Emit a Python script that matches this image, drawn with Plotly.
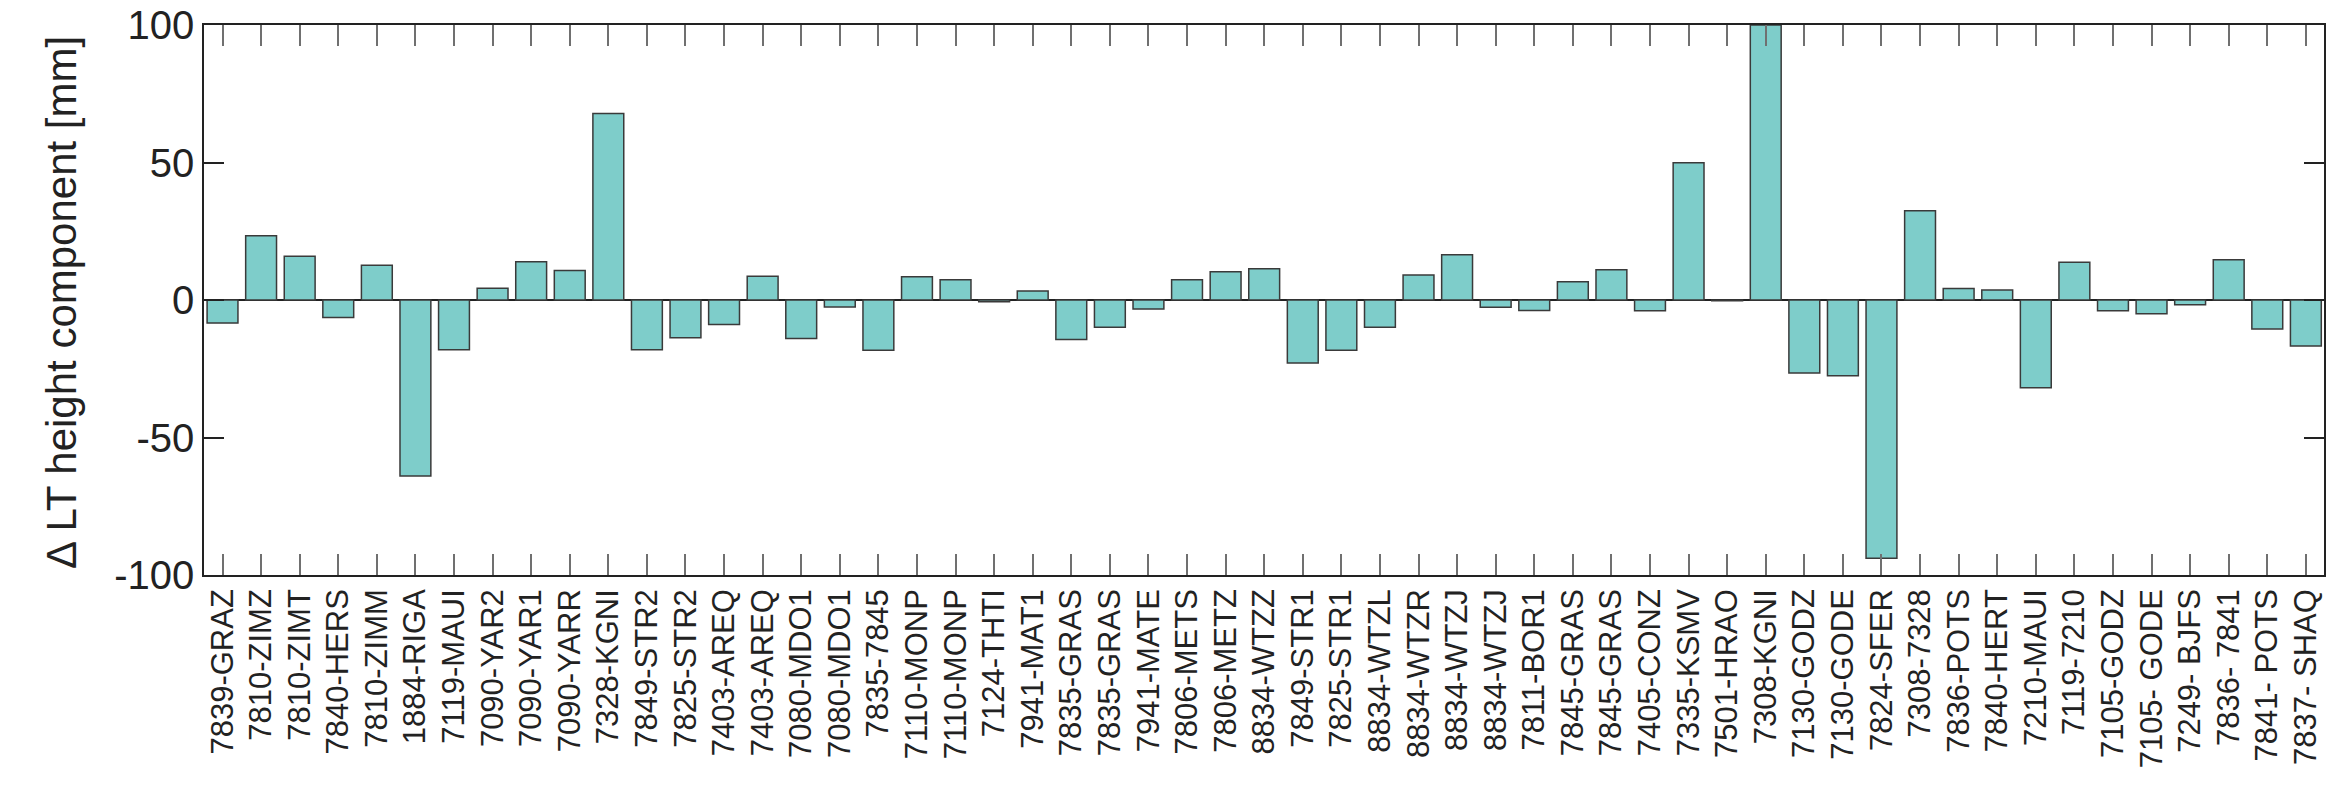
import plotly.graph_objects as go

# Station pairs (x-axis categories, in plotted order)
labels = [
    "7839-GRAZ", "7810-ZIMZ", "7810-ZIMT", "7840-HERS", "7810-ZIMM", "1884-RIGA",
    "7119-MAUI", "7090-YAR2", "7090-YAR1", "7090-YARR", "7328-KGNI", "7849-STR2",
    "7825-STR2", "7403-AREQ", "7403-AREQ", "7080-MDO1", "7080-MDO1", "7835-7845",
    "7110-MONP", "7110-MONP", "7124-THTI", "7941-MAT1", "7835-GRAS", "7835-GRAS",
    "7941-MATE", "7806-METS", "7806-METZ", "8834-WTZZ", "7849-STR1", "7825-STR1",
    "8834-WTZL", "8834-WTZR", "8834-WTZJ", "8834-WTZJ", "7811-BOR1", "7845-GRAS",
    "7845-GRAS", "7405-CONZ", "7335-KSMV", "7501-HRAO", "7308-KGNI", "7130-GODZ",
    "7130-GODE", "7824-SFER", "7308-7328", "7836-POTS", "7840-HERT", "7210-MAUI",
    "7119-7210", "7105-GODZ", "7105- GODE", "7249- BJFS", "7836- 7841", "7841- POTS",
    "7837- SHAQ",
]

# Delta LT height component [mm]
values = [
    -8.4, 23.4, 15.9, -6.4, 12.6, -64.0,
    -18.1, 4.3, 13.9, 10.7, 67.8, -18.1,
    -13.7, -8.9, 8.6, -14.0, -2.5, -18.3,
    8.5, 7.4, -0.6, 3.3, -14.4, -9.9,
    -3.3, 7.4, 10.3, 11.4, -22.9, -18.3,
    -9.9, 9.1, 16.5, -2.6, -3.8, 6.6,
    11.0, -3.9, 49.9, -0.3, 100.0, -26.5,
    -27.5, -93.9, 32.5, 4.2, 3.6, -31.9,
    13.7, -3.9, -5.0, -1.7, 14.6, -10.5,
    -16.7,
]

y_ticks = [-100, -50, 0, 50, 100]
y_title = "Δ LT height component [mm]"

positions = list(range(len(labels)))

fig = go.Figure(
    go.Bar(
        x=positions,
        y=values,
        width=0.8,
        marker=dict(color="#7ecdca", line=dict(color="#3a3a3a", width=1.5)),
        hoverinfo="skip",
    )
)

font_family = "Liberation Sans, Arial, sans-serif"

fig.update_layout(
    width=2327,
    height=809,
    margin=dict(l=204, r=1, t=25, b=234, pad=0),
    plot_bgcolor="white",
    paper_bgcolor="white",
    showlegend=False,
    font=dict(family=font_family, color="#222222"),
    annotations=[
        dict(
            text=y_title,
            xref="paper", yref="paper",
            x=-0.0669, y=0.495,
            xanchor="center", yanchor="middle",
            textangle=-90,
            showarrow=False,
            font=dict(size=42, family=font_family, color="#222222"),
        )
    ],
)

fig.update_xaxes(
    range=[-0.48, 54.47],
    tickmode="array",
    tickvals=positions,
    ticktext=labels,
    tickangle=-90,
    tickfont=dict(size=31, family=font_family, color="#222222"),
    ticks="inside",
    ticklen=21,
    tickwidth=1.5,
    tickcolor="#707070",
    showline=True,
    linecolor="#222222",
    linewidth=1.5,
    mirror="allticks",
    showgrid=False,
    zeroline=False,
)

fig.update_yaxes(
    range=[-100, 100],
    tickmode="array",
    tickvals=y_ticks,
    ticktext=[str(v) for v in y_ticks],
    tickfont=dict(size=40, family=font_family, color="#222222"),
    ticks="inside",
    ticklen=20,
    tickwidth=1.5,
    tickcolor="#222222",
    showline=True,
    linecolor="#222222",
    linewidth=1.5,
    mirror="allticks",
    showgrid=False,
    zeroline=True,
    zerolinecolor="#222222",
    zerolinewidth=1.5,
)

fig.write_html(
    "out.html",
    config={"displayModeBar": False},
    post_script="document.body.style.margin='0';document.body.style.overflow='hidden';",
)
